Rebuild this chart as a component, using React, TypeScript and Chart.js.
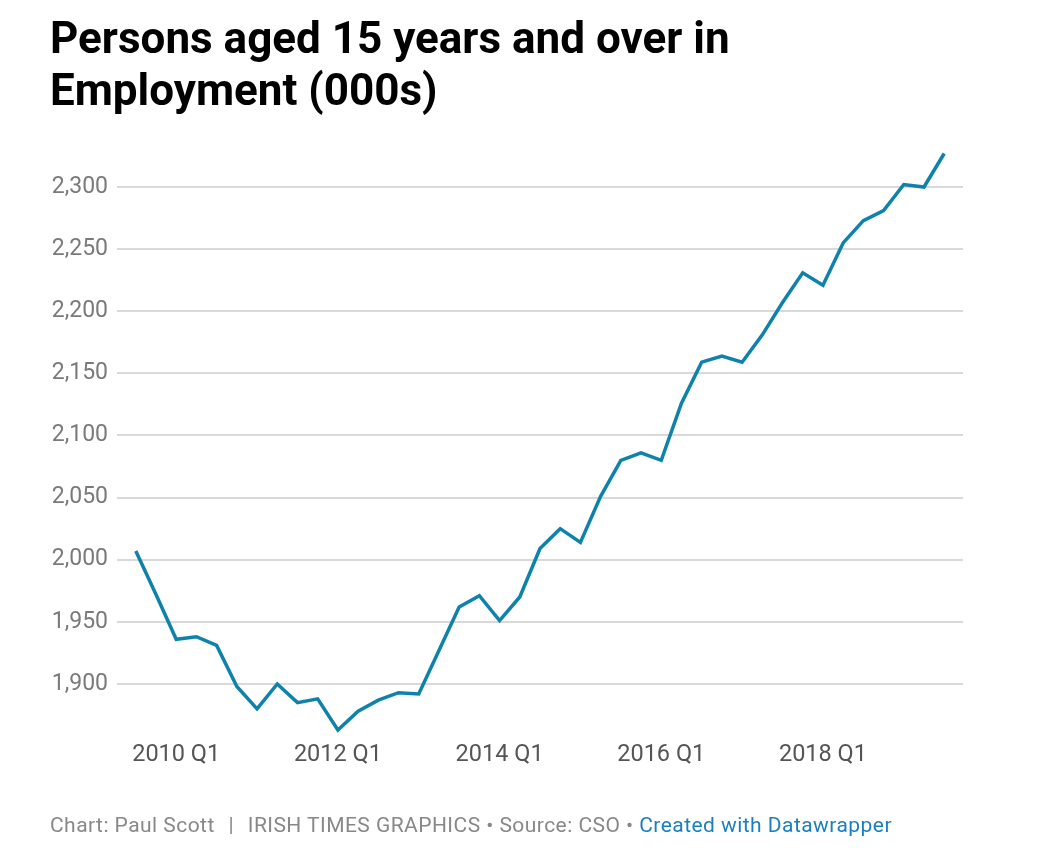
import React, { useEffect, useRef } from "react";
import { Chart, registerables } from "chart.js";

Chart.register(...registerables);

const quarters: string[] = [
  "2009 Q3", "2009 Q4",
  "2010 Q1", "2010 Q2", "2010 Q3", "2010 Q4",
  "2011 Q1", "2011 Q2", "2011 Q3", "2011 Q4",
  "2012 Q1", "2012 Q2", "2012 Q3", "2012 Q4",
  "2013 Q1", "2013 Q2", "2013 Q3", "2013 Q4",
  "2014 Q1", "2014 Q2", "2014 Q3", "2014 Q4",
  "2015 Q1", "2015 Q2", "2015 Q3", "2015 Q4",
  "2016 Q1", "2016 Q2", "2016 Q3", "2016 Q4",
  "2017 Q1", "2017 Q2", "2017 Q3", "2017 Q4",
  "2018 Q1", "2018 Q2", "2018 Q3", "2018 Q4",
  "2019 Q1", "2019 Q2", "2019 Q3",
];

const employment: number[] = [
  2007, 1972,
  1936, 1938, 1931, 1898,
  1880, 1900, 1885, 1888,
  1863, 1878, 1887, 1893,
  1892, 1927, 1962, 1971,
  1951, 1970, 2009, 2025,
  2014, 2051, 2080, 2086,
  2080, 2126, 2159, 2164,
  2159, 2181, 2207, 2231,
  2221, 2255, 2273, 2281,
  2302, 2300, 2327,
];

const xTickLabels: string[] = ["2010 Q1", "2012 Q1", "2014 Q1", "2016 Q1", "2018 Q1"];
const yTickValues: number[] = [1900, 1950, 2000, 2050, 2100, 2150, 2200, 2250, 2300];

const TITLE = "Persons aged 15 years and over in Employment (000s)";

export default function App() {
  const canvasRef = useRef<HTMLCanvasElement | null>(null);

  useEffect(() => {
    if (!canvasRef.current) return;
    const points = employment.map((v, i) => ({ x: i, y: v }));
    const chart = new Chart(canvasRef.current, {
      type: "line",
      data: {
        datasets: [
          {
            label: "Employment",
            data: points,
            borderColor: "#0e82ab",
            borderWidth: 3.5,
            pointRadius: 0,
            tension: 0,
            fill: false,
            clip: false as any,
            borderJoinStyle: "miter",
          },
        ],
      },
      options: {
        animation: false,
        responsive: false,
        maintainAspectRatio: false,
        layout: { padding: { left: 0, right: 89, top: 150, bottom: 68 } },
        plugins: { legend: { display: false }, tooltip: { enabled: false }, title: { display: false } },
        scales: {
          x: {
            type: "linear",
            min: -0.93,
            max: 40.93,
            grid: { display: false, drawTicks: false },
            border: { display: false },
            afterBuildTicks: (scale: any) => {
              scale.ticks = xTickLabels.map((l) => ({ value: quarters.indexOf(l) }));
            },
            afterFit: (scale: any) => {
              scale.height = 40;
            },
            ticks: {
              padding: 1,
              autoSkip: false,
              maxRotation: 0,
              color: "#555555",
              font: { family: "Roboto", size: 23.5 },
              callback: (v: any) => quarters[Math.round(Number(v))] ?? "",
            },
          },
          y: {
            type: "linear",
            min: 1854.9,
            max: 2329.8,
            grid: { color: "#d9d9d9", lineWidth: 2, drawTicks: false },
            border: { display: false },
            afterBuildTicks: (scale: any) => {
              scale.ticks = yTickValues.map((v) => ({ value: v }));
            },
            afterFit: (scale: any) => {
              scale.width = 117;
            },
            ticks: {
              padding: 9,
              color: "#7a7a7a",
              font: { family: "Roboto", size: 23 },
              callback: (v: any) => Number(v).toLocaleString("en-US"),
            },
          },
        },
      },
    });
    return () => chart.destroy();
  }, []);

  return (
    <div style={{ position: "absolute", left: 0, top: 0, width: 1052, height: 848, background: "#ffffff" }}>
      <canvas
        ref={canvasRef}
        width={1052}
        height={848}
        style={{ position: "absolute", left: 0, top: 0, width: 1052, height: 848 }}
      />
      <div
        style={{
          position: "absolute",
          left: 50,
          top: 12,
          width: 740,
          fontFamily: "Roboto",
          fontWeight: 700,
          fontSize: 44,
          lineHeight: "52px",
          color: "#000000",
        }}
      >
        {TITLE}
      </div>
      <div
        style={{
          position: "absolute",
          left: 50,
          top: 813,
          fontFamily: "Roboto",
          fontSize: 21,
          letterSpacing: "0.45px",
          lineHeight: "24px",
          color: "#888888",
          whiteSpace: "nowrap",
        }}
      >
        Chart: Paul Scott
        <span style={{ display: "inline-block", width: 33, textAlign: "center" }}>|</span>
        IRISH TIMES GRAPHICS • Source: CSO •{" "}
        <span style={{ color: "#1a7fc1" }}>Created with Datawrapper</span>
      </div>
    </div>
  );
}
